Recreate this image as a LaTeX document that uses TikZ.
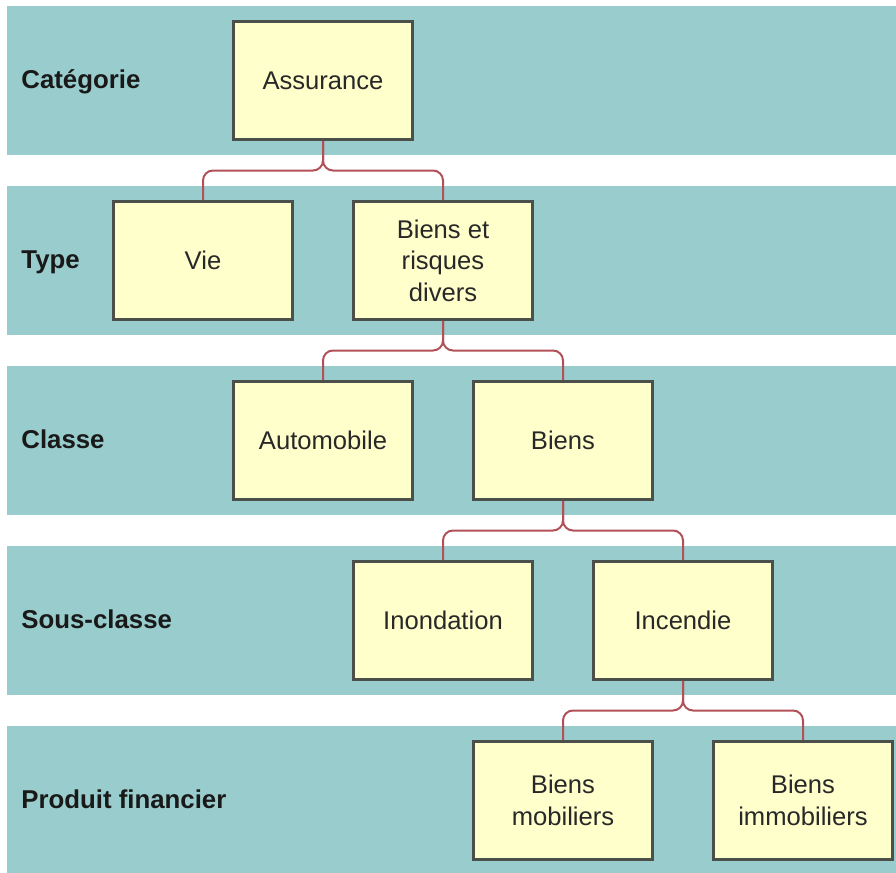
\documentclass[tikz,border=0pt]{standalone}
\usepackage{fontspec}
\setmainfont{Liberation Sans}
\usepackage{xcolor}
\usetikzlibrary{positioning,calc}

\definecolor{bandteal}{RGB}{153,204,204}
\definecolor{boxyellow}{RGB}{255,255,204}
\definecolor{boxgray}{RGB}{75,80,75}
\definecolor{linkred}{RGB}{178,80,88}
\definecolor{textgray}{RGB}{40,40,40}

\begin{document}
\begin{tikzpicture}[x=0.5pt,y=-0.5pt]
    \tikzset{
        band/.style={fill=bandteal, draw=none},
        box/.style={draw=boxgray, line width=1.4pt, fill=boxyellow, minimum width=89.5pt, minimum height=59pt, inner sep=0pt, align=center, text=textgray, font=\fontsize{12.8}{15.8}\selectfont},
        level/.style={anchor=base west, inner sep=0pt, text=black!90, font=\bfseries\fontsize{12.9}{15.8}\selectfont},
        link/.style={draw=linkred, line width=1pt, rounded corners=5pt}
    }
    \useasboundingbox (0,0) rectangle (896,873);

    % bandes de niveaux
    \foreach \i in {0,...,4}
        \fill[band] (7,6+180*\i) rectangle (896,155+180*\i);

    \node[level] (lcat) at (21,88.5) {Catégorie};
    \node[level] (ltype) at (21,268.5) {Type};
    \node[level] (lclasse) at (21,448.5) {Classe};
    \node[level] (lsous) at (21,628.5) {Sous-classe};
    \node[level] (lprod) at (21,808.5) {Produit financier};

    % hierarchie
    \node[box] (assur) at (323,80.5) {Assurance};
    \node[box] (vie) at (203,260.5) {Vie};
    \node[box] (risques) at (443,260.5) {Biens et\\risques\\divers};
    \node[box] (auto) at (323,440.5) {Automobile};
    \node[box] (biens) at (563,440.5) {Biens};
    \node[box] (inond) at (443,620.5) {Inondation};
    \node[box] (incend) at (683,620.5) {Incendie};
    \node[box] (mobil) at (563,800.5) {Biens\\mobiliers};
    \node[box] (immob) at (803,800.5) {Biens\\immobiliers};

    \foreach \p/\c in {assur/vie, assur/risques, risques/auto, risques/biens,
                       biens/inond, biens/incend, incend/mobil, incend/immob} {
        \coordinate (m) at ($(\p.south)!.5!(\c.north)$);
        \draw[link] (\p.south) -- (\p.south |- m) -| (\c.north);
    }
\end{tikzpicture}
\end{document}
